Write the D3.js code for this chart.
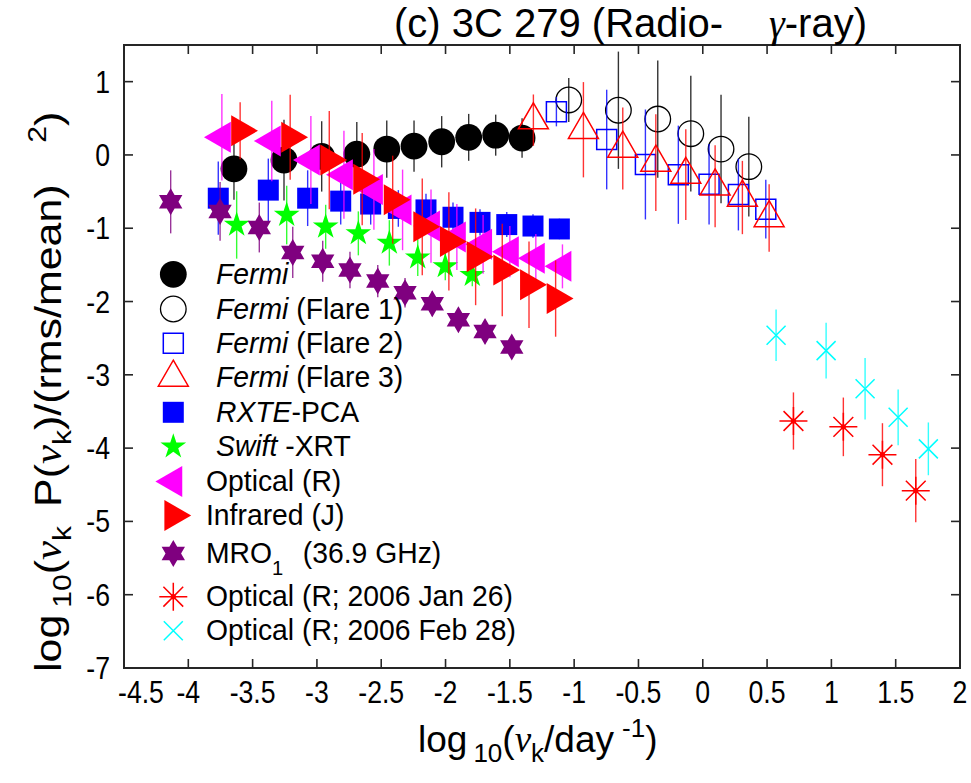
<!DOCTYPE html>
<html>
<head>
<meta charset="utf-8">
<script src="https://cdn.jsdelivr.net/npm/d3@7"></script>
<style>
  html, body { margin: 0; padding: 0; background: #fff; }
  svg text { font-family: "Liberation Sans", Arial, Helvetica, sans-serif; fill: #000; }
</style>
</head>
<body>
<svg id="chart" width="971" height="783"></svg>
<script>
// ---- Power spectra of 3C 279: log10(nu_k) vs log10(nu_k P(nu_k)), with 1-sigma errors ----
const fermiX = [-3.645, -3.256, -2.963, -2.69, -2.457, -2.245, -2.03, -1.82, -1.61, -1.405];
const fermiY = [-0.19, -0.07, -0.02, 0.01, 0.08, 0.12, 0.18, 0.24, 0.27, 0.23];
const fermiE = [0.42, 0.55, 0.48, 0.44, 0.39, 0.35, 0.35, 0.32, 0.28, 0.27];

const flare1X = [-1.042, -0.656, -0.35, -0.093, 0.142, 0.358];
const flare1Y = [0.75, 0.61, 0.49, 0.29, 0.08, -0.16];
const flare1E = [0.3, 0.8, 0.8, 0.79, 0.74, 0.68];

const flare2X = [-1.138, -0.747, -0.446, -0.19, 0.049, 0.277, 0.49];
const flare2Y = [0.59, 0.21, -0.13, -0.27, -0.40, -0.54, -0.74];
const flare2E = [0.2, 0.68, 0.75, 0.67, 0.55, 0.49, 0.4];

const flare3X = [-1.317, -0.928, -0.622, -0.365, -0.132, 0.096, 0.308, 0.516];
const flare3Y = [0.475, 0.344, 0.088, -0.104, -0.268, -0.428, -0.581, -0.861];
const flare3E = [0.35, 0.65, 0.56, 0.66, 0.62, 0.56, 0.5, 0.46];

const rxteX = [-3.767, -3.378, -3.072, -2.815, -2.582, -2.367, -2.152, -1.942, -1.732, -1.524, -1.32, -1.115];
const rxteY = [-0.59, -0.48, -0.59, -0.63, -0.67, -0.73, -0.75, -0.85, -0.92, -0.95, -0.97, -1.01];
const rxteE = [0.5, 0.43, 0.38, 0.32, 0.28, 0.25, 0.22, 0.2, 0.18, 0.17, 0.16, 0.14];

const swiftX = [-3.624, -3.235, -2.932, -2.678, -2.437, -2.216, -2.002, -1.792];
const swiftY = [-0.955, -0.82, -0.98, -1.07, -1.2, -1.4, -1.52, -1.64];
const swiftE = [0.46, 0.4, 0.3, 0.3, 0.31, 0.25, 0.19, 0.15];

const optRX = [-3.739, -3.351, -3.047, -2.79, -2.557, -2.334, -2.113, -1.912, -1.708, -1.5, -1.298, -1.091];
const optRY = [0.24, 0.19, -0.07, -0.27, -0.47, -0.75, -0.97, -1.12, -1.22, -1.32, -1.41, -1.52];
const optRE = [0.59, 0.55, 0.6, 0.6, 0.55, 0.55, 0.5, 0.45, 0.4, 0.35, 0.33, 0.3];

const irJX = [-3.597, -3.208, -2.904, -2.648, -2.411, -2.181, -1.974, -1.766, -1.559, -1.351, -1.144];
const irJY = [0.33, 0.24, -0.07, -0.33, -0.61, -0.98, -1.18, -1.39, -1.57, -1.77, -1.96];
const irJE = [0.39, 0.58, 0.67, 0.63, 0.6, 0.66, 0.67, 0.66, 0.63, 0.59, 0.52];

const mroX = [-4.137, -3.753, -3.448, -3.188, -2.955, -2.743, -2.527, -2.315, -2.103, -1.9, -1.693, -1.485];
const mroY = [-0.64, -0.77, -0.99, -1.33, -1.45, -1.57, -1.72, -1.88, -2.03, -2.25, -2.41, -2.62];
const mroE = [0.43, 0.4, 0.34, 0.35, 0.28, 0.25, 0.22, 0.2, 0.17, 0.15, 0.13, 0.1];

const jan26X = [0.705, 1.093, 1.397, 1.656];
const jan26Y = [-3.63, -3.71, -4.09, -4.58];
const jan26E = [0.39, 0.4, 0.43, 0.43];

const feb28X = [0.57, 0.959, 1.262, 1.519, 1.754];
const feb28Y = [-2.46, -2.67, -3.19, -3.58, -4.01];
const feb28E = [0.35, 0.38, 0.42, 0.38, 0.36];

const xTicks = [-4.5, -4, -3.5, -3, -2.5, -2, -1.5, -1, -0.5, 0, 0.5, 1, 1.5, 2];
const xTickLabels = ["-4.5", "-4", "-3.5", "-3", "-2.5", "-2", "-1.5", "-1", "-0.5", "0", "0.5", "1", "1.5", "2"];
const yTicks = [1, 0, -1, -2, -3, -4, -5, -6, -7];
const yTickLabels = ["1", "0", "-1", "-2", "-3", "-4", "-5", "-6", "-7"];

// ---- layout ----
const svg = d3.select("#chart");
const plot = { left: 124, right: 960, top: 45, bottom: 668 };
const x = d3.scaleLinear().domain([-4.5, 2]).range([plot.left, plot.right]);
const y = d3.scaleLinear().domain([-7, 1.5]).range([plot.bottom, plot.top]);

// ---- marker shapes (centred on the data point) ----
const SQ3 = Math.sqrt(3);
function tri(side, dir) {
  const h = side * SQ3 / 2;
  let pts;
  if (dir === "up")    pts = [[0, -2 * h / 3], [side / 2, h / 3], [-side / 2, h / 3]];
  if (dir === "left")  pts = [[-2 * h / 3, 0], [h / 3, -side / 2], [h / 3, side / 2]];
  if (dir === "right") pts = [[2 * h / 3, 0], [-h / 3, -side / 2], [-h / 3, side / 2]];
  return "M" + pts.map(p => p.join(",")).join("L") + "Z";
}
function star(R, r, n) {
  const pts = [];
  for (let i = 0; i < 2 * n; i++) {
    const a = -Math.PI / 2 + i * Math.PI / n;
    const rad = i % 2 === 0 ? R : r;
    pts.push([rad * Math.cos(a), rad * Math.sin(a)]);
  }
  return "M" + pts.map(p => p[0].toFixed(2) + "," + p[1].toFixed(2)).join("L") + "Z";
}
function square(s) { const h = s / 2; return `M${-h},${-h}H${h}V${h}H${-h}Z`; }
function circle(r) { return `M${-r},0A${r},${r} 0 1,0 ${r},0A${r},${r} 0 1,0 ${-r},0Z`; }
function asterisk(L) {
  const d = L / Math.SQRT2;
  return `M${-L},0H${L}M0,${-L}V${L}M${-d},${-d}L${d},${d}M${-d},${d}L${d},${-d}`;
}
function cross(L) { return `M${-L},${-L}L${L},${L}M${-L},${L}L${L},${-L}`; }

const markers = {
  fermi:  { d: circle(13.4), fill: "#000", stroke: "none" },
  flare1: { d: circle(12.8), fill: "none", stroke: "#000", sw: 1.3 },
  flare2: { d: square(20), fill: "none", stroke: "#0000ff", sw: 1.5 },
  flare3: { d: tri(30, "up"), fill: "none", stroke: "#ff0000", sw: 1.5 },
  rxte:   { d: square(21), fill: "#0000ff", stroke: "none" },
  swift:  { d: star(13.5, 13.5 * 0.382, 5), fill: "#00ff00", stroke: "none" },
  optR:   { d: tri(31, "left"), fill: "#ff00ff", stroke: "none" },
  irJ:    { d: tri(31, "right"), fill: "#ff0000", stroke: "none" },
  mro:    { d: star(13.5, 13.5 / SQ3, 6), fill: "#7f007f", stroke: "none" },
  jan26:  { d: asterisk(14), fill: "none", stroke: "#ff0000", sw: 1.5, dot: true },
  feb28:  { d: cross(9.5), fill: "none", stroke: "#00ffff", sw: 1.5 }
};

const series = [
  { key: "fermi",  xs: fermiX,  ys: fermiY,  es: fermiE,  bar: "#000000" },
  { key: "flare1", xs: flare1X, ys: flare1Y, es: flare1E, bar: "#000000" },
  { key: "flare2", xs: flare2X, ys: flare2Y, es: flare2E, bar: "#0000ff" },
  { key: "flare3", xs: flare3X, ys: flare3Y, es: flare3E, bar: "#ff0000" },
  { key: "rxte",   xs: rxteX,   ys: rxteY,   es: rxteE,   bar: "#0000ff" },
  { key: "swift",  xs: swiftX,  ys: swiftY,  es: swiftE,  bar: "#00ff00" },
  { key: "optR",   xs: optRX,   ys: optRY,   es: optRE,   bar: "#ff00ff" },
  { key: "irJ",    xs: irJX,    ys: irJY,    es: irJE,    bar: "#ff0000" },
  { key: "mro",    xs: mroX,    ys: mroY,    es: mroE,    bar: "#7f007f" },
  { key: "jan26",  xs: jan26X,  ys: jan26Y,  es: jan26E,  bar: "#ff0000" },
  { key: "feb28",  xs: feb28X,  ys: feb28Y,  es: feb28E,  bar: "#00ffff" }
];

function drawMarker(g, m, cx, cy) {
  g.append("path")
    .attr("d", m.d)
    .attr("transform", `translate(${cx},${cy})`)
    .attr("fill", m.fill)
    .attr("stroke", m.stroke)
    .attr("stroke-width", m.sw || 0);
  if (m.dot) {
    g.append("circle").attr("cx", cx).attr("cy", cy).attr("r", 2.6).attr("fill", m.stroke);
  }
}

// ---- data: error bars under each series' markers ----
const dataG = svg.append("g");
series.forEach(s => {
  const pts = s.xs.map((xv, i) => ({ x: xv, y: s.ys[i], e: s.es[i] }));
  const g = dataG.append("g").attr("class", "series-" + s.key);
  g.selectAll("line.err").data(pts).enter().append("line")
    .attr("class", "err")
    .attr("x1", d => x(d.x)).attr("x2", d => x(d.x))
    .attr("y1", d => y(d.y - d.e)).attr("y2", d => y(d.y + d.e))
    .attr("stroke", s.bar).attr("stroke-width", 1.4).attr("stroke-opacity", 0.8);
  pts.forEach(d => drawMarker(g, markers[s.key], x(d.x), y(d.y)));
});

// ---- axes box with inward ticks on all four sides ----
const axisColor = "#262626";
const tickLen = 9;
const axG = svg.append("g");
axG.append("rect")
  .attr("x", plot.left).attr("y", plot.top)
  .attr("width", plot.right - plot.left).attr("height", plot.bottom - plot.top)
  .attr("fill", "none").attr("stroke", axisColor).attr("stroke-width", 2);

xTicks.forEach((t, i) => {
  const px = x(t);
  axG.append("line").attr("x1", px).attr("x2", px).attr("y1", plot.bottom).attr("y2", plot.bottom - tickLen)
    .attr("stroke", axisColor).attr("stroke-width", 1.6);
  axG.append("line").attr("x1", px).attr("x2", px).attr("y1", plot.top).attr("y2", plot.top + tickLen)
    .attr("stroke", axisColor).attr("stroke-width", 1.6);
  // the first label is nudged right so it clears the lowest y label
  const first = i === 0;
  axG.append("text")
    .attr("transform", `translate(${first ? px - 6 : px},703) scale(0.86,1)`)
    .attr("text-anchor", first ? "start" : "middle").attr("font-size", 31)
    .text(xTickLabels[i]);
});
yTicks.forEach((t, i) => {
  const py = y(t);
  axG.append("line").attr("x1", plot.left).attr("x2", plot.left + tickLen).attr("y1", py).attr("y2", py)
    .attr("stroke", axisColor).attr("stroke-width", 1.6);
  axG.append("line").attr("x1", plot.right).attr("x2", plot.right - tickLen).attr("y1", py).attr("y2", py)
    .attr("stroke", axisColor).attr("stroke-width", 1.6);
  axG.append("text")
    .attr("transform", `translate(110,${py + 11}) scale(0.86,1)`)
    .attr("text-anchor", "end").attr("font-size", 31)
    .text(yTickLabels[i]);
});

// ---- title ----
const title = svg.append("text").attr("x", 394).attr("y", 37).attr("font-size", 40);
title.append("tspan").text("(c) 3C 279 (Radio-");
title.append("tspan").attr("dx", 46).attr("font-family", "'Liberation Serif', 'Times New Roman', serif")
  .attr("font-style", "italic").text("γ");
title.append("tspan").text("-ray)");

// ---- x axis label ----
const xl = svg.append("text").attr("x", 418).attr("y", 752).attr("font-size", 37);
xl.append("tspan").text("log");
xl.append("tspan").attr("dx", 6).attr("dy", 10).attr("font-size", 26).text("10");
xl.append("tspan").attr("dy", -10).text("(");
xl.append("tspan").attr("font-family", "'Liberation Serif', 'Times New Roman', serif").attr("font-style", "italic").text("ν");
xl.append("tspan").attr("dy", 10).attr("font-size", 26).text("k");
xl.append("tspan").attr("dy", -10).text("/day");
xl.append("tspan").attr("dx", 8).attr("dy", -15).attr("font-size", 26).text("-1");
xl.append("tspan").attr("dy", 15).text(")");

// ---- y axis label (stretched along its reading direction) ----
const yl = svg.append("text").attr("transform", "translate(61,672) rotate(-90) scale(1.16,1)").attr("font-size", 37);
yl.append("tspan").text("log");
yl.append("tspan").attr("dx", 6).attr("dy", 10).attr("font-size", 26).text("10");
yl.append("tspan").attr("dy", -10).text("(");
yl.append("tspan").attr("font-family", "'Liberation Serif', 'Times New Roman', serif").attr("font-style", "italic").text("ν");
yl.append("tspan").attr("dy", 10).attr("font-size", 26).text("k");
yl.append("tspan").attr("dy", -10).attr("dx", 6).text(" P(");
yl.append("tspan").attr("font-family", "'Liberation Serif', 'Times New Roman', serif").attr("font-style", "italic").text("ν");
yl.append("tspan").attr("dy", 10).attr("font-size", 26).text("k");
yl.append("tspan").attr("dy", -10).text(")/(rms/mean)");
yl.append("tspan").attr("dx", 36).attr("dy", -15).attr("font-size", 26).text("2");
yl.append("tspan").attr("dy", 15).text(")");

// ---- legend ----
const legendRows = [
  { key: "fermi",  cy: 274.3, tx: 216, parts: [["Fermi", true]] },
  { key: "flare1", cy: 309.0, tx: 216, parts: [["Fermi", true], [" (Flare 1)", false]] },
  { key: "flare2", cy: 343.3, tx: 216, parts: [["Fermi", true], [" (Flare 2)", false]] },
  { key: "flare3", cy: 377.5, tx: 216, parts: [["Fermi", true], [" (Flare 3)", false]] },
  { key: "rxte",   cy: 412.3, tx: 216, parts: [["RXTE", true], ["-PCA", false]] },
  { key: "swift",  cy: 446.7, tx: 216, parts: [["Swift", true], [" -XRT", false]] },
  { key: "optR",   cy: 481.5, tx: 206, parts: [["Optical (R)", false]] },
  { key: "irJ",    cy: 515.5, tx: 206, parts: [["Infrared (J)", false]] },
  { key: "mro",    cy: 553.5, tx: 206, parts: [["MRO", false], ["1", "sub"], ["  (36.9 GHz)", false]] },
  { key: "jan26",  cy: 596.7, tx: 206, parts: [["Optical (R; 2006 Jan 26)", false]] },
  { key: "feb28",  cy: 630.7, tx: 206, parts: [["Optical (R; 2006 Feb 28)", false]] }
];
const legG = svg.append("g");
legendRows.forEach(row => {
  drawMarker(legG, markers[row.key], 173.3, row.cy);
  const t = legG.append("text")
    .attr("transform", `translate(${row.tx},${row.cy + 9.5}) scale(0.96,1)`)
    .attr("font-size", 29.5)
    .attr("xml:space", "preserve");
  row.parts.forEach(([txt, style]) => {
    const sp = t.append("tspan").text(txt);
    if (style === true) sp.attr("font-style", "italic");
    if (style === "sub") sp.attr("font-size", 21).attr("dy", 12);
    if (style === false && row.key === "mro" && txt.startsWith(" ")) sp.attr("dy", -12).attr("dx", 4);
  });
});
</script>
</body>
</html>
